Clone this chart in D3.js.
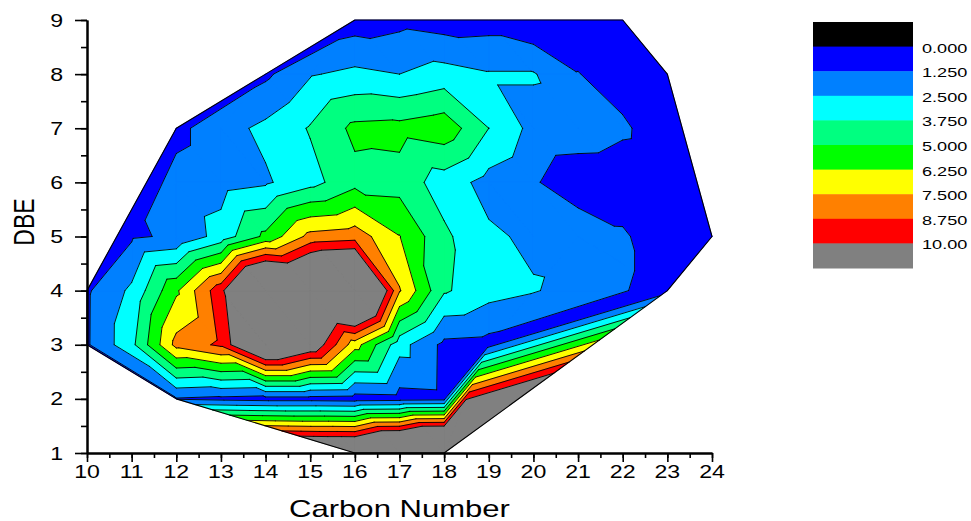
<!DOCTYPE html>
<html>
<head>
<meta charset="utf-8">
<script src="https://cdn.jsdelivr.net/npm/d3@7"></script>
<style>
  body { margin: 0; background: #fff; }
  svg { display: block; }
  text { font-family: "Liberation Sans", Arial, sans-serif; fill: #000; }
</style>
</head>
<body>
<svg id="chart" width="971" height="521"></svg>
<script>
// carbon number columns and DBE rows of the measured grid
var carbonNumbers = [10, 11, 12, 13, 14, 15, 16, 17, 18, 19, 20, 21, 22, 23, 24];
var dbeLevels = [1, 2, 3, 4, 5, 6, 7, 8, 9];

// relative abundance per DBE row, one value per carbon number (null = not found)
var dbe1 = [null, null, null, null, null, null, 14, 16.5, 19, null, null, null, null, null, null];
var dbe2 = [null, null, 1.15, 0.95, 0.8, 0.8, 0.7, 0.8, 0.9, null, null, null, null, null, null];
var dbe3 = [1.1, 3.4, 7.9, 9.0, 13.5, 11.4, 6.8, 3.0, 0.94, 0.8, null, null, null, null, null];
var dbe4 = [1.08, 2.75, 6.05, 9.6, 15.7, 14.9, 16.2, 7.6, 3.9, 3.0, 2.6, null, null, 0.7, null];
var dbe5 = [null, 1.08, 1.45, 3.0, 5.3, 7.9, 8.2, 6.3, 4.0, 2.7, 2.27, 2.2, 1.45, 0.3, 0.1];
var dbe6 = [null, null, 1.65, 2.0, 2.33, 3.33, 4.6, 4.5, 3.14, 2.07, 1.4, 0.4, 0.35, 0.2, null];
var dbe7 = [null, null, 0.9, 2.0, 2.8, 3.85, 5.3, 5.4, 5.8, 3.75, 2.1, 2.0, 1.5, 0.3, null];
var dbe8 = [null, null, null, null, 1.0, 2.4, 2.8, 2.5, 3.0, 2.6, 2.6, 1.3, 0.5, 0.2, null];
var dbe9 = [null, null, null, null, null, null, 0.6, 0.9, 0.6, 0.7, 0.15, 0.3, 0.2, null, null];
var abundanceRows = [dbe1, dbe2, dbe3, dbe4, dbe5, dbe6, dbe7, dbe8, dbe9];

// contour levels and colour fill of each band (below first level ... above last)
var levels = [0, 1.25, 2.5, 3.75, 5, 6.25, 7.5, 8.75, 10];
var levelLabels = ["0.000", "1.250", "2.500", "3.750", "5.000", "6.250", "7.500", "8.750", "10.00"];
var bandColors = ["#000000", "#0000ff", "#0080ff", "#00ffff", "#00ff80", "#00ff00", "#ffff00", "#ff8000", "#ff0000", "#808080"];

var xTickValues = [10, 11, 12, 13, 14, 15, 16, 17, 18, 19, 20, 21, 22, 23, 24];
var yTickValues = [1, 2, 3, 4, 5, 6, 7, 8, 9];

var svg = d3.select("#chart");
var x = d3.scaleLinear().domain([10, 24]).range([87, 712]);
var y = d3.scaleLinear().domain([1, 9]).range([453, 20]);

var points = [];
abundanceRows.forEach(function(row, i) {
    row.forEach(function(v, j) {
        if (v !== null) points.push({c: carbonNumbers[j], d: dbeLevels[i], v: v});
    });
});

// triangulate the scattered points (tiny shear picks the same cell diagonal everywhere)
var delaunay = d3.Delaunay.from(points,
    function(p) { return p.c + 0.001 * p.d; },
    function(p) { return p.d; });
var tris = [];
for (var i = 0; i < delaunay.triangles.length; i += 3) {
    tris.push([points[delaunay.triangles[i]], points[delaunay.triangles[i + 1]], points[delaunay.triangles[i + 2]]]);
}

// keep the part of a polygon where sign*(v - t) >= 0
function clip(poly, t, sign) {
    var out = [];
    for (var k = 0; k < poly.length; k++) {
        var p = poly[k], q = poly[(k + 1) % poly.length];
        var pin = sign * (p.v - t) >= 0, qin = sign * (q.v - t) >= 0;
        if (pin) out.push(p);
        if (pin !== qin) {
            var f = (t - p.v) / (q.v - p.v);
            out.push({c: p.c + f * (q.c - p.c), d: p.d + f * (q.d - p.d), v: t});
        }
    }
    return out;
}

var plot = svg.append("g");

bandColors.forEach(function(col, b) {
    var lo = b > 0 ? levels[b - 1] : null;
    var hi = b < levels.length ? levels[b] : null;
    var path = d3.path();
    tris.forEach(function(t) {
        var poly = t.slice();
        if (lo !== null) poly = clip(poly, lo, 1);
        if (hi !== null && poly.length) poly = clip(poly, hi, -1);
        if (poly.length < 3) return;
        path.moveTo(x(poly[0].c), y(poly[0].d));
        for (var k = 1; k < poly.length; k++) path.lineTo(x(poly[k].c), y(poly[k].d));
        path.closePath();
    });
    plot.append("path")
        .attr("d", path.toString())
        .attr("fill", col)
        .attr("stroke", col)
        .attr("stroke-width", 0.6)
        .attr("stroke-linejoin", "round");
});

// contour lines
var lines = d3.path();
levels.forEach(function(t) {
    tris.forEach(function(tr) {
        var seg = [];
        for (var k = 0; k < 3; k++) {
            var p = tr[k], q = tr[(k + 1) % 3];
            if ((p.v < t) !== (q.v < t)) {
                var f = (t - p.v) / (q.v - p.v);
                seg.push([p.c + f * (q.c - p.c), p.d + f * (q.d - p.d)]);
            }
        }
        if (seg.length === 2) {
            lines.moveTo(x(seg[0][0]), y(seg[0][1]));
            lines.lineTo(x(seg[1][0]), y(seg[1][1]));
        }
    });
});
plot.append("path")
    .attr("d", lines.toString())
    .attr("fill", "none")
    .attr("stroke", "#000")
    .attr("stroke-width", 0.9)
    .attr("stroke-linecap", "round");

// outline of the data area
var hull = Array.from(delaunay.hull, function(k) { return [x(points[k].c), y(points[k].d)]; });
plot.append("path")
    .attr("d", "M" + hull.join("L") + "Z")
    .attr("fill", "none")
    .attr("stroke", "#000")
    .attr("stroke-width", 1.1)
    .attr("stroke-linejoin", "round");

// axes
var halfX = d3.range(10, 24.01, 0.5), halfY = d3.range(1, 9.01, 0.5);
svg.append("g").attr("transform", "translate(0,453)")
    .call(d3.axisBottom(x).tickValues(halfX).tickSize(5).tickSizeOuter(0).tickFormat(""));
svg.append("g").attr("transform", "translate(0,453)")
    .call(d3.axisBottom(x).tickValues(xTickValues).tickSize(9).tickSizeOuter(0).tickFormat(""));
svg.append("g").attr("transform", "translate(87,0)")
    .call(d3.axisLeft(y).tickValues(halfY).tickSize(6).tickSizeOuter(0).tickFormat(""));
svg.append("g").attr("transform", "translate(87,0)")
    .call(d3.axisLeft(y).tickValues(yTickValues).tickSize(12).tickSizeOuter(0).tickFormat(""));
svg.selectAll(".domain").attr("stroke", "#000").attr("stroke-width", 2);
svg.selectAll(".tick line").attr("stroke", "#000").attr("stroke-width", 1.6);

svg.append("g").selectAll("text").data(xTickValues).enter().append("text")
    .attr("transform", function(d) { return "translate(" + x(d) + ",478) scale(1.25,1)"; })
    .attr("text-anchor", "middle")
    .style("font-size", "18.5px")
    .text(function(d) { return d; });

svg.append("g").selectAll("text").data(yTickValues).enter().append("text")
    .attr("transform", function(d) { return "translate(63," + (y(d) + 6.5) + ") scale(1.25,1)"; })
    .attr("text-anchor", "end")
    .style("font-size", "18.5px")
    .text(function(d) { return d; });

svg.append("text")
    .attr("transform", "translate(" + x(17) + ",517) scale(1.35,1)")
    .attr("text-anchor", "middle")
    .style("font-size", "23px")
    .text("Carbon Number");

svg.append("text")
    .attr("transform", "translate(34,222) scale(1.3,1) rotate(-90)")
    .attr("text-anchor", "middle")
    .style("font-size", "23px")
    .text("DBE");

// legend
var boxH = 24.6, legTop = 22;
var legend = svg.append("g");
legend.selectAll("rect").data(bandColors).enter().append("rect")
    .attr("x", 813).attr("width", 100)
    .attr("y", function(d, i) { return legTop + i * boxH; })
    .attr("height", boxH + 0.5)
    .attr("fill", function(d) { return d; });
legend.selectAll("text").data(levelLabels).enter().append("text")
    .attr("transform", function(d, i) { return "translate(922," + (legTop + (i + 1) * boxH + 6) + ") scale(1.45,1)"; })
    .style("font-size", "12.5px")
    .text(function(d) { return d; });
</script>
</body>
</html>
